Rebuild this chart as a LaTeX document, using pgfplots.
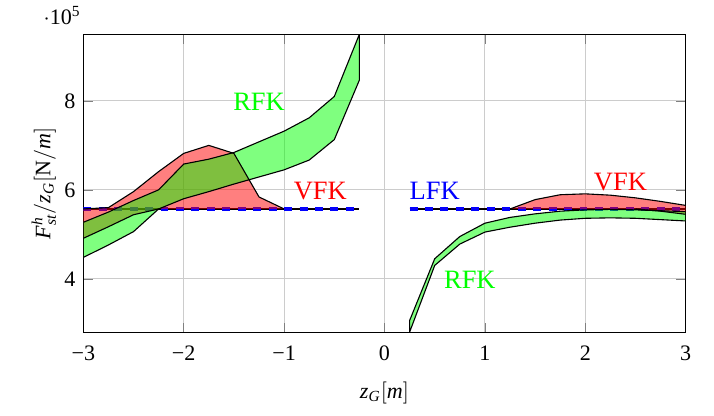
\documentclass[border={11pt 2pt 7pt 2pt}]{standalone}
\usepackage{fontspec}
\setmainfont{Liberation Serif}
\usepackage{pgfplots}
\pgfplotsset{compat=1.18}

\begin{document}
\begin{tikzpicture}
\begin{axis}[
 scale only axis,width=273pt,height=135pt,
 xmin=-3,xmax=3,ymin=2.8,ymax=9.5,
 xtick={-3,-2,-1,0,1,2,3},
 xticklabels={−3,−2,−1,0,1,2,3},
 ytick={4,6,8},
 yticklabels={4,6,8},
 xticklabel style={yshift=-2.5pt},
 grid=major,grid style={gray!40},
 xlabel={$\mathit{z}_{\mathit{G}}[\mathit{m}]$},
 xlabel style={yshift=-3pt},
 ylabel={$\mathit{F}^{\mathit{h}}_{\mathit{st}}/\mathit{z}_{\mathit{G}}[\mathrm{N}/\mathit{m}]$},
 ylabel style={yshift=-3pt},
 clip mode=individual
]
% LFK
\addplot[black,line width=0.8pt] coordinates {(-3,5.57) (-0.25,5.57)};
\addplot[black,line width=0.8pt] coordinates {(0.25,5.57) (3,5.57)};
\addplot[blue,line width=2.2pt,dash pattern=on 3.6pt off 3.4pt] coordinates {(-3,5.57) (-0.25,5.57)};
\addplot[blue,line width=2.2pt,dash pattern=on 3.6pt off 3.4pt] coordinates {(0.25,5.57) (3,5.57)};

% VFK bands
\addplot[fill=red,fill opacity=0.5,draw=none] coordinates {
 (-3,5.57) (-2.75,5.6) (-2.5,5.96) (-2.25,6.41) (-2,6.82) (-1.75,7.0) (-1.5,6.82) (-1.25,5.84) (-1,5.57) (-0.25,5.57)
 (-2.25,5.57) (-2.5,5.44) (-2.75,5.17) (-3,4.91)} -- cycle;
\addplot[fill=red,fill opacity=0.5,draw=none] coordinates {
 (0.25,5.57) (1.25,5.57) (1.5,5.78) (1.75,5.89) (2,5.91) (2.25,5.88) (2.5,5.82) (2.75,5.74) (3,5.65)
 (3,5.45) (2.75,5.52) (2.5,5.57)} -- cycle;

% RFK bands
\addplot[fill=green,fill opacity=0.5,draw=black,line width=0.5pt] coordinates {
 (-3,5.27) (-2.75,5.5) (-2.5,5.76) (-2.25,6.0) (-2,6.58) (-1.75,6.69) (-1.5,6.84) (-1.25,7.08) (-1,7.32) (-0.75,7.62) (-0.5,8.1) (-0.25,9.5)
 (-0.25,8.47) (-0.5,7.13) (-0.75,6.67) (-1,6.45) (-1.25,6.29) (-1.5,6.13) (-1.75,5.96) (-2,5.8) (-2.25,5.57) (-2.5,5.06) (-2.75,4.76) (-3,4.48)} -- cycle;
\addplot[fill=green,fill opacity=0.5,draw=black,line width=0.5pt] coordinates {
 (0.25,3.06) (0.5,4.45) (0.75,4.95) (1,5.25) (1.25,5.38) (1.5,5.46) (1.75,5.52) (2,5.55) (2.25,5.56) (2.5,5.55) (2.75,5.53) (3,5.51)
 (3,5.3) (2.75,5.33) (2.5,5.36) (2.25,5.37) (2,5.36) (1.75,5.32) (1.5,5.25) (1.25,5.16) (1,5.05) (0.75,4.78) (0.5,4.3) (0.25,2.8)} -- cycle;

% VFK outlines
\addplot[black,line width=0.5pt] coordinates {(-3,5.57) (-2.75,5.6) (-2.5,5.96) (-2.25,6.41) (-2,6.82) (-1.75,7.0) (-1.5,6.82) (-1.25,5.84) (-1,5.57)};
\addplot[black,line width=0.5pt] coordinates {(-3,4.91) (-2.75,5.17) (-2.5,5.44) (-2.25,5.57)};
\addplot[black,line width=0.5pt] coordinates {(1.25,5.57) (1.5,5.78) (1.75,5.89) (2,5.91) (2.25,5.88) (2.5,5.82) (2.75,5.74) (3,5.65)};
\addplot[black,line width=0.5pt] coordinates {(2.5,5.57) (2.75,5.52) (3,5.45)};

\node[green,font=\large] at (axis cs:-1.25,7.98) {RFK};
\node[red,font=\large] at (axis cs:-0.64,5.98) {VFK};
\node[blue,font=\large] at (axis cs:0.5,5.98) {LFK};
\node[red,font=\large] at (axis cs:2.35,6.18) {VFK};
\node[green,font=\large] at (axis cs:0.85,3.98) {RFK};
\node[anchor=south east,inner sep=1pt,yshift=3pt] at (rel axis cs:0,1) {$\cdot$10\textsuperscript{5}};
\end{axis}
\end{tikzpicture}
\end{document}
